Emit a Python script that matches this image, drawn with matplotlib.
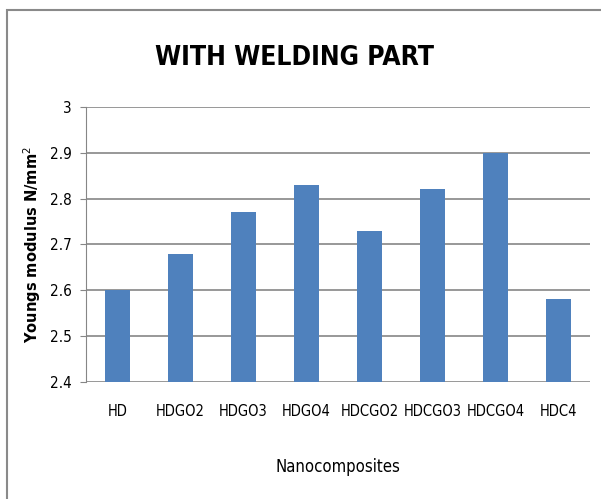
import matplotlib
matplotlib.use("Agg")
import matplotlib.pyplot as plt
from matplotlib.patches import Rectangle

# values
samples = ["HD", "HDGO2", "HDGO3", "HDGO4", "HDCGO2", "HDCGO3", "HDCGO4", "HDC4"]
modulus = [2.60, 2.68, 2.77, 2.83, 2.73, 2.82, 2.90, 2.58]
yticks = [2.4, 2.5, 2.6, 2.7, 2.8, 2.9, 3.0]
ytick_labels = ["2.4", "2.5", "2.6", "2.7", "2.8", "2.9", "3"]

narrow = dict(family="DejaVu Sans", stretch="condensed")

fig = plt.figure(figsize=(6.01, 4.99), dpi=100)
ax = fig.add_axes([86 / 601, 1 - 382 / 499, (590 - 86) / 601, (382 - 107) / 499])

# chart frame
fig.patches.append(Rectangle((7 / 601, -0.1), 1.1, 1 - 10 / 499 + 0.1,
                             transform=fig.transFigure, fill=False,
                             edgecolor="#8a8a8a", linewidth=1.5))

x = range(len(samples))
ax.bar(x, [v - 2.4 for v in modulus], bottom=2.4, width=0.4, color="#4f81bd", zorder=3)

ax.set_ylim(2.4, 3.0)
ax.set_xlim(-0.5, len(samples) - 0.5)
ax.set_yticks(yticks)
ax.set_yticklabels(ytick_labels, fontsize=11, **narrow)
ax.set_xticks(list(x))
ax.set_xticklabels(samples, fontsize=10.5, **narrow)
ax.tick_params(axis="x", length=0, pad=16)
ax.tick_params(axis="y", length=4, color="#868686", pad=6)

ax.grid(axis="y", color="#868686", linewidth=1.2, zorder=0)
for side in ["top", "right"]:
    ax.spines[side].set_visible(False)
ax.spines["bottom"].set_visible(False)
ax.spines["left"].set_color("#868686")

ax.set_xlabel("Nanocomposites", fontsize=12, labelpad=28, **narrow)
ax.set_ylabel("Youngs modulus N/mm$^2$", fontsize=10.5, fontweight="bold", labelpad=5)
fig.text(0.49, 1 - 58 / 499, "WITH WELDING PART", ha="center", va="center",
         fontsize=19, fontweight="bold", **narrow)

fig.savefig("out.png", dpi=100)
